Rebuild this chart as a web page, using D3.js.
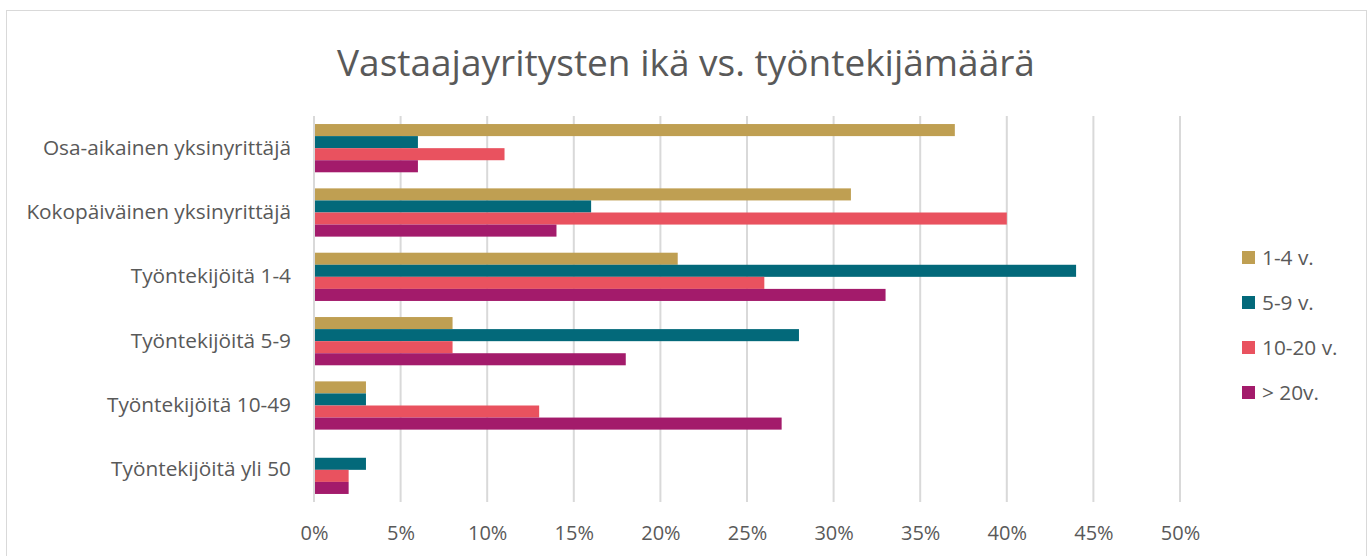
<!DOCTYPE html>
<html>
<head>
<meta charset="utf-8">
<script src="https://cdn.jsdelivr.net/npm/d3@7"></script>
<style>
  body { margin: 0; background: #fff; }
  text { font-family: "Open Sans", "Noto Sans", sans-serif; fill: #595959; }
</style>
</head>
<body>
<div class="canvas"></div>
<script>
// Data
const categories = [
    'Osa-aikainen yksinyrittäjä',
    'Kokopäiväinen yksinyrittäjä',
    'Työntekijöitä 1-4',
    'Työntekijöitä 5-9',
    'Työntekijöitä 10-49',
    'Työntekijöitä yli 50'
];
const seriesNames = ['1-4 v.', '5-9 v.', '10-20 v.', '> 20v.'];
const v1to4 = [37, 31, 21, 8, 3, 0];
const v5to9 = [6, 16, 44, 28, 3, 3];
const v10to20 = [11, 40, 26, 8, 13, 2];
const vOver20 = [6, 14, 33, 18, 27, 2];
const xTicks = [0, 5, 10, 15, 20, 25, 30, 35, 40, 45, 50];
const colors = ['#bf9f52', '#03697a', '#e9525f', '#a31b6b'];

const seriesValues = [v1to4, v5to9, v10to20, vOver20];

// Set up
const svgWidth = 1372;
const svgHeight = 556;
const margin = {top: 116, right: 192, bottom: 54, left: 314};
const graphWidth = 1180 - margin.left;
const graphHeight = 502 - margin.top;

const svg = d3.select('.canvas')
    .append('svg')
    .attr('width', svgWidth)
    .attr('height', svgHeight);

// chart border
svg.append('rect')
    .attr('x', 6.5).attr('y', 10.5)
    .attr('width', 1360).attr('height', 560)
    .attr('fill', 'none')
    .attr('stroke', '#d9d9d9')
    .attr('stroke-width', 1);

svg.append('text')
    .attr('x', 686)
    .attr('y', 76)
    .attr('text-anchor', 'middle')
    .style('font-size', '37px')
    .text('Vastaajayritysten ikä vs. työntekijämäärä');

const graph = svg.append('g')
    .attr('transform', `translate(${margin.left},${margin.top})`);

// Scales
const x = d3.scaleLinear().domain([0, 50]).range([0, graphWidth]);
const y = d3.scaleBand().domain(categories).range([0, graphHeight])
    .paddingInner(0.25).paddingOuter(0.125);
const ySub = d3.scaleBand().domain(seriesNames).range([0, y.bandwidth()]);

// gridlines
graph.append('g')
    .selectAll('line')
    .data(xTicks)
    .enter()
    .append('line')
        .attr('x1', d => x(d))
        .attr('x2', d => x(d))
        .attr('y1', 0)
        .attr('y2', graphHeight)
        .attr('stroke', '#d9d9d9')
        .attr('stroke-width', 2);

// x axis
const xAxis = d3.axisBottom(x)
    .tickValues(xTicks)
    .tickSize(0)
    .tickPadding(24)
    .tickFormat(d => d + '%');
const xAxisGroup = graph.append('g')
    .attr('transform', `translate(0,${graphHeight})`)
    .call(xAxis);
xAxisGroup.select('.domain').remove();
xAxisGroup.selectAll('text')
    .style('font-size', '20px')
    .attr('fill', '#595959');

// y axis
const yAxis = d3.axisLeft(y).tickSize(0).tickPadding(23);
const yAxisGroup = graph.append('g').call(yAxis);
yAxisGroup.select('.domain').remove();
yAxisGroup.selectAll('text')
    .style('font-size', '20.8px')
    .attr('fill', '#595959');

// Bars
const groups = graph.selectAll('g.cat')
    .data(categories)
    .enter()
    .append('g')
        .attr('class', 'cat')
        .attr('transform', d => `translate(0,${y(d)})`);

groups.selectAll('rect')
    .data((c, ci) => seriesNames.map((s, si) => ({s, si, v: seriesValues[si][ci]})))
    .enter()
    .append('rect')
        .attr('x', 1)
        .attr('y', d => ySub(d.s))
        .attr('width', d => Math.max(0, x(d.v) - 1))
        .attr('height', ySub.bandwidth())
        .attr('fill', d => colors[d.si]);

// Legend
const legend = svg.append('g')
    .attr('transform', 'translate(1242,251)');
const items = legend.selectAll('g')
    .data(seriesNames)
    .enter()
    .append('g')
        .attr('transform', (d, i) => `translate(0,${i * 45})`);
items.append('rect')
    .attr('width', 13)
    .attr('height', 13)
    .attr('fill', (d, i) => colors[i]);
items.append('text')
    .attr('x', 20)
    .attr('y', 14)
    .style('font-size', '20.8px')
    .text(d => d);
</script>
</body>
</html>
